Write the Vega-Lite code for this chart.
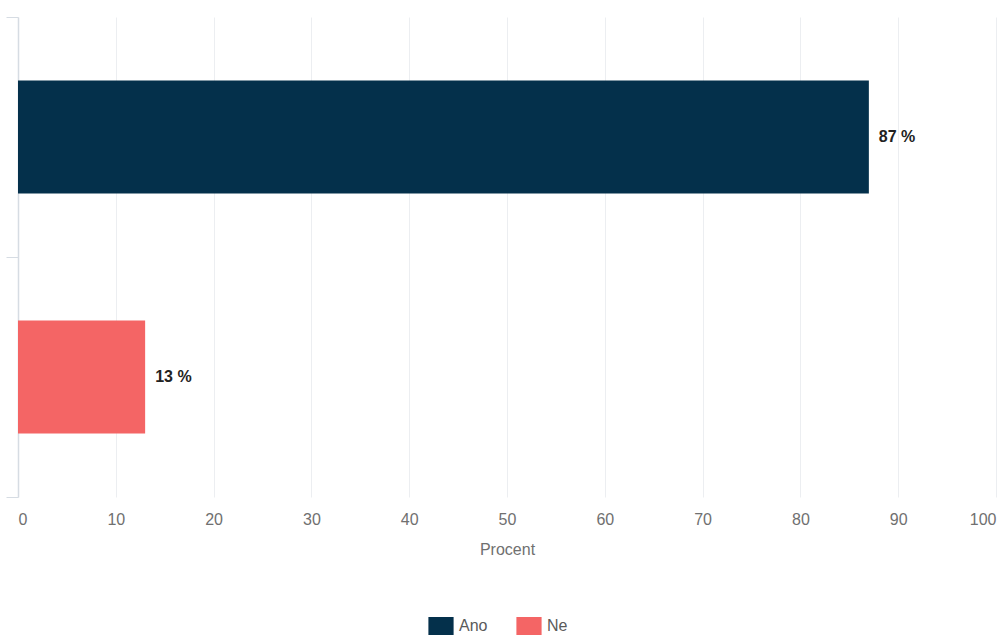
{
  "$schema": "https://vega.github.io/schema/vega-lite/v6.json",
  "width": 978,
  "height": 480,
  "autosize": "none",
  "padding": {"left": 18, "top": 17, "right": 12, "bottom": 140},
  "background": "white",
  "config": {
    "font": "Liberation Sans",
    "view": {"stroke": null}
  },
  "data": {
    "values": [
      {"odpoved": "Ano", "procent": 87, "label": "87 %"},
      {"odpoved": "Ne", "procent": 13, "label": "13 %"}
    ]
  },
  "encoding": {
    "y": {
      "field": "odpoved",
      "type": "nominal",
      "sort": ["Ano", "Ne"],
      "scale": {"paddingInner": 0, "paddingOuter": 0},
      "axis": {
        "title": null,
        "labels": false,
        "tickBand": "extent",
        "tickSize": 12,
        "tickColor": "#d6dce3",
        "domainColor": "#d6dce3",
        "domainWidth": 1.5,
        "grid": false
      }
    },
    "x": {
      "field": "procent",
      "type": "quantitative",
      "scale": {"domain": [0, 100], "nice": false},
      "axis": {
        "title": "Procent",
        "titleFontWeight": "normal",
        "titleFontSize": 16,
        "titleColor": "#707070",
        "titlePadding": 14,
        "values": [0, 10, 20, 30, 40, 50, 60, 70, 80, 90, 100],
        "labelFontSize": 16,
        "labelColor": "#707070",
        "labelPadding": 14,
        "domain": false,
        "ticks": false,
        "grid": true,
        "gridColor": "#eceef1",
        "gridWidth": 1
      }
    }
  },
  "layer": [
    {
      "mark": {"type": "bar", "height": {"band": 0.47}},
      "encoding": {
        "color": {
          "field": "odpoved",
          "type": "nominal",
          "scale": {"domain": ["Ano", "Ne"], "range": ["#04304b", "#f46565"]},
          "legend": {
            "title": null,
            "orient": "none",
            "legendX": 414,
            "legendY": 600,
            "direction": "horizontal",
            "symbolType": "M-1.4,-1H1.4V1H-1.4Z",
            "symbolSize": 324,
            "symbolStrokeWidth": 0,
            "labelFontSize": 16,
            "labelColor": "#5a5a5a",
            "columnPadding": 28,
            "labelOffset": 9
          }
        }
      }
    },
    {
      "mark": {"type": "text", "align": "left", "dx": 10, "fontWeight": "bold", "fontSize": 16, "color": "#222222"},
      "encoding": {
        "text": {"field": "label", "type": "nominal"}
      }
    }
  ]
}
